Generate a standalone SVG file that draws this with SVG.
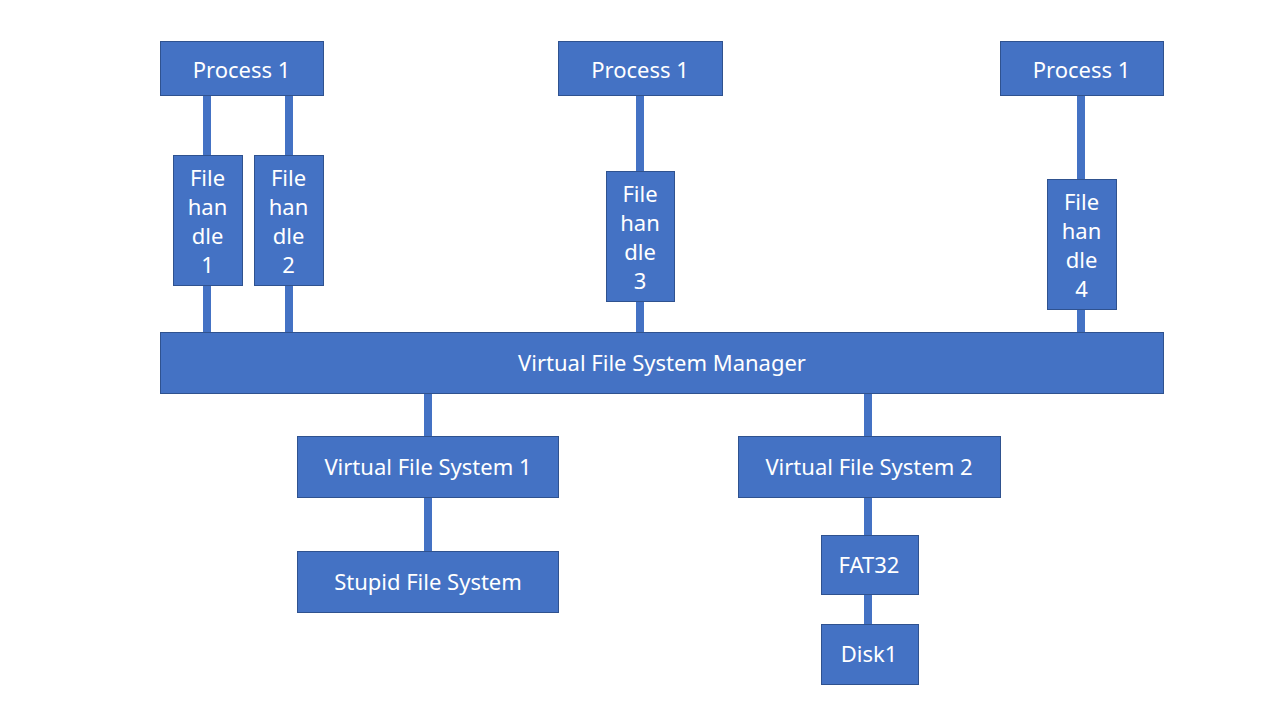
<svg xmlns="http://www.w3.org/2000/svg" width="1280" height="720" viewBox="0 0 1280 720">
<style>
.box{fill:#4472C4;stroke:#2F528F;stroke-width:1}
.t{fill:#ffffff;font-family:"Noto Sans","Open Sans","Liberation Sans",sans-serif;font-size:22px;text-anchor:middle;dominant-baseline:central}
.c{stroke:#4472C4;stroke-width:8;fill:none}
</style>
<rect width="1280" height="720" fill="#ffffff"/>
<g id="connectors">
<line class="c" x1="207" y1="95" x2="207" y2="332"/>
<line class="c" x1="289" y1="95" x2="289" y2="332"/>
<line class="c" x1="640" y1="95" x2="640" y2="332"/>
<line class="c" x1="1081" y1="95" x2="1081" y2="332"/>
<line class="c" x1="428" y1="393" x2="428" y2="551"/>
<line class="c" x1="868" y1="393" x2="868" y2="624"/>
</g>
<g id="p1"><rect class="box" x="160.5" y="41.5" width="163" height="54"/><text class="t" x="241.5" y="69">Process 1</text></g>
<g id="p2"><rect class="box" x="558.5" y="41.5" width="164" height="54"/><text class="t" x="640" y="69">Process 1</text></g>
<g id="p3"><rect class="box" x="1000.5" y="41.5" width="163" height="54"/><text class="t" x="1081.5" y="69">Process 1</text></g>
<g id="fh1"><rect class="box" x="173.5" y="155.5" width="69" height="130"/><text class="t" x="207.5"><tspan x="207.5" y="177">File</tspan><tspan x="207.5" y="206">han</tspan><tspan x="207.5" y="235">dle</tspan><tspan x="207.5" y="264">1</tspan></text></g>
<g id="fh2"><rect class="box" x="254.5" y="155.5" width="69" height="130"/><text class="t"><tspan x="288.5" y="177">File</tspan><tspan x="288.5" y="206">han</tspan><tspan x="288.5" y="235">dle</tspan><tspan x="288.5" y="264">2</tspan></text></g>
<g id="fh3"><rect class="box" x="606.5" y="171.5" width="68" height="130"/><text class="t"><tspan x="640" y="193">File</tspan><tspan x="640" y="222">han</tspan><tspan x="640" y="251">dle</tspan><tspan x="640" y="280">3</tspan></text></g>
<g id="fh4"><rect class="box" x="1047.5" y="179.5" width="69" height="130"/><text class="t"><tspan x="1081.5" y="201">File</tspan><tspan x="1081.5" y="230">han</tspan><tspan x="1081.5" y="259">dle</tspan><tspan x="1081.5" y="288">4</tspan></text></g>
<g id="vfsm"><rect class="box" x="160.5" y="332.5" width="1003" height="61"/><text class="t" x="662" y="362">Virtual File System Manager</text></g>
<g id="vfs1"><rect class="box" x="297.5" y="436.5" width="261" height="61"/><text class="t" x="428" y="466">Virtual File System 1</text></g>
<g id="sfs"><rect class="box" x="297.5" y="551.5" width="261" height="61"/><text class="t" x="428" y="581">Stupid File System</text></g>
<g id="vfs2"><rect class="box" x="738.5" y="436.5" width="262" height="61"/><text class="t" x="869" y="466">Virtual File System 2</text></g>
<g id="fat32"><rect class="box" x="821.5" y="535.5" width="97" height="59"/><text class="t" x="869" y="564">FAT32</text></g>
<g id="disk1"><rect class="box" x="821.5" y="624.5" width="97" height="60"/><text class="t" x="869" y="653">Disk1</text></g>
</svg>
